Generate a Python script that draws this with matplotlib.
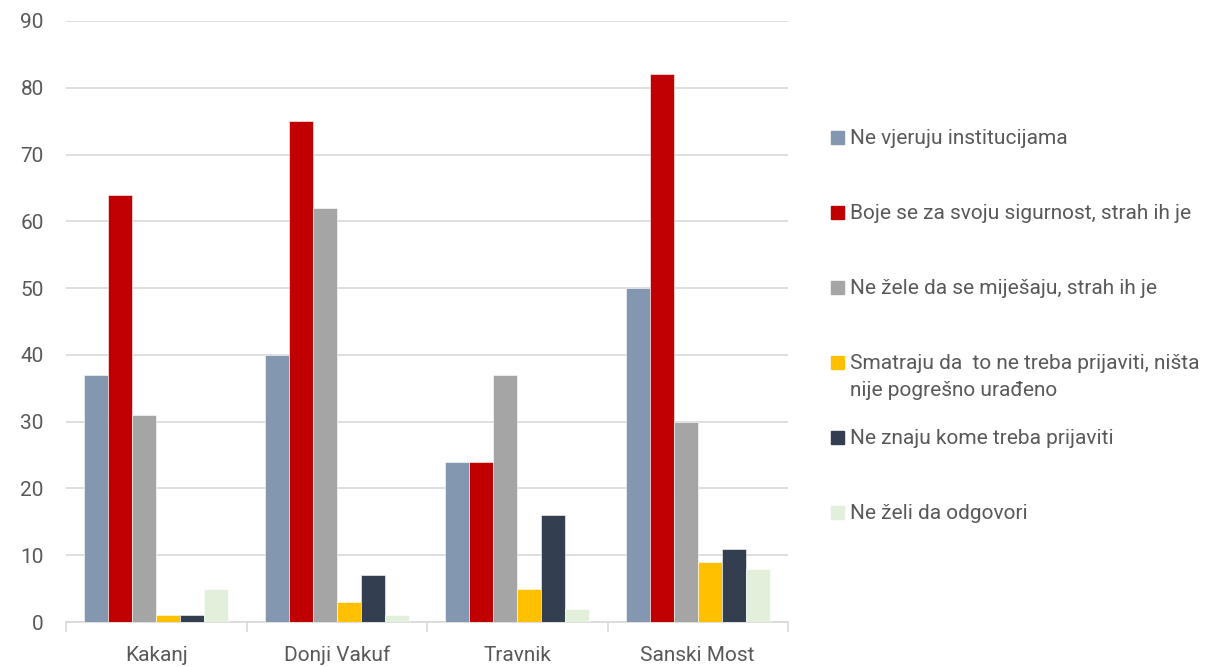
import numpy as np
import matplotlib.pyplot as plt
from matplotlib.patches import Rectangle

plt.rcParams["font.family"] = ["Roboto", "DejaVu Sans"]

categories = ["Kakanj", "Donji Vakuf", "Travnik", "Sanski Most"]
series_labels = [
    "Ne vjeruju institucijama",
    "Boje se za svoju sigurnost, strah ih je",
    "Ne žele da se miješaju, strah ih je",
    "Smatraju da  to ne treba prijaviti, ništa\nnije pogrešno urađeno",
    "Ne znaju kome treba prijaviti",
    "Ne želi da odgovori",
]
ne_vjeruju = [37, 40, 24, 50]
boje_se = [64, 75, 24, 82]
ne_zele = [31, 62, 37, 30]
smatraju = [1, 3, 5, 9]
ne_znaju = [1, 7, 16, 11]
ne_zeli_odg = [5, 1, 2, 8]
series = [ne_vjeruju, boje_se, ne_zele, smatraju, ne_znaju, ne_zeli_odg]
colors = ["#8497B0", "#C00000", "#A5A5A5", "#FFC000", "#333F50", "#E2EFDA"]

text_color = "#595959"
grid_color = "#D9D9D9"

fig = plt.figure(figsize=(12.14, 6.67), dpi=100)
ax = fig.add_axes([66 / 1214, 1 - 622 / 667, (788 - 66) / 1214, (622 - 21) / 667])

x = np.arange(len(categories))
w = 0.8 / len(series)
for i, (vals, c) in enumerate(zip(series, colors)):
    ax.bar(x - 0.4 + w * (i + 0.5), vals, width=w, color=c,
           edgecolor="white", linewidth=0.4, zorder=3)

ax.set_xlim(-0.5, len(categories) - 0.5)
ax.set_ylim(0, 90)
ax.set_yticks(range(0, 91, 10))
ax.yaxis.grid(True, color=grid_color, linewidth=1.2, zorder=0)
ax.set_axisbelow(True)

for s in ["top", "right", "left"]:
    ax.spines[s].set_visible(False)
ax.spines["bottom"].set_color(grid_color)
ax.spines["bottom"].set_linewidth(1.2)

ax.set_xticks(x)
ax.set_xticklabels(categories)
ax.set_xticks(np.arange(-0.5, len(categories)), minor=True)
ax.tick_params(axis="x", which="major", length=0, pad=17, labelsize=15, labelcolor=text_color)
ax.tick_params(axis="x", which="minor", length=7, width=1.2, color=grid_color)
ax.tick_params(axis="y", length=0, pad=16, labelsize=15, labelcolor=text_color)

# legend, drawn at the right like the spreadsheet version
for i, (lab, c) in enumerate(zip(series_labels, colors)):
    yc = 137 + 75 * i
    fig.patches.append(Rectangle((831 / 1214, 1 - (yc + 6.5) / 667), 13 / 1214, 13 / 667,
                                 transform=fig.transFigure, color=c, figure=fig))
    fig.text(850 / 1214, 1 - (yc - 8) / 667, lab, fontsize=15, color=text_color,
             va="top", ha="left", linespacing=1.55)

fig.savefig("out.png", dpi=100)
